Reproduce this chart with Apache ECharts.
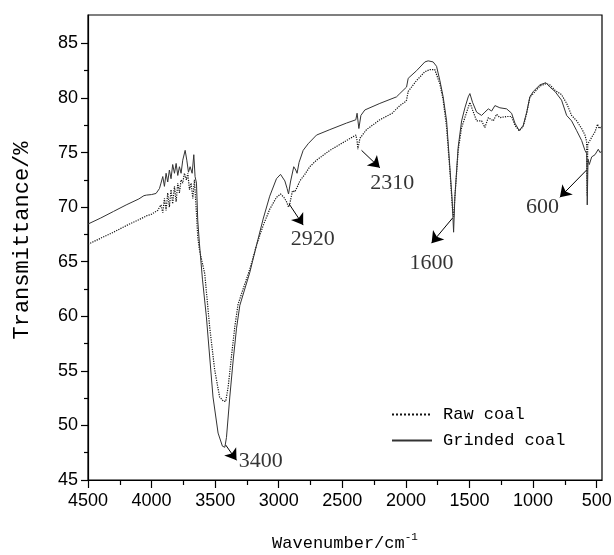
<!DOCTYPE html>
<html><head><meta charset="utf-8">
<script src="https://cdn.jsdelivr.net/npm/echarts@6/dist/echarts.min.js"></script>
<style>html,body{margin:0;padding:0;background:#fff}#c{width:614px;height:555px}</style>
</head><body><div id="c"></div>
<script>
// ---- data ----
const rawWavenumber = [4500,4400,4300,4200,4100,4056,4040,4000,3952,3926,3912,3899,3886,3873,3860,3847,3834,3820,3807,3794,3781,3768,3755,3742,3726,3715,3702,3689,3676,3663,3647,3637,3624,3582,3543,3504,3465,3433,3417,3398,3372,3346,3320,3280,3228,3175,3123,3071,3018,2986,2960,2939,2923,2913,2892,2874,2856,2834,2795,2756,2703,2598,2467,2394,2384,2378,2362,2310,2205,2108,2048,2010,1995,1982,1916,1851,1812,1773,1733,1707,1680,1654,1633,1625,1615,1589,1562,1536,1497,1476,1444,1405,1379,1352,1313,1287,1261,1208,1169,1143,1109,1077,1050,1025,998,946,899,868,828,776,736,697,657,618,592,579,575,570,558,539,513,493,480,461];
const rawT = [66.6,67.15,67.7,68.3,68.85,69.1,69.2,69.35,69.7,70.2,69.5,70.8,69.7,71.3,70.0,71.6,70.3,71.9,70.5,72.2,71.3,72.5,72.2,73.1,72.5,73.1,71.6,72.2,70.8,72.5,69.4,67.3,66.1,63.9,59.0,55.1,52.6,52.2,52.2,53.5,56.3,59.0,61.1,62.5,64.3,66.5,68.3,69.8,70.9,71.2,70.9,70.5,70.0,70.3,71.5,71.4,71.8,72.4,73.0,73.7,74.3,75.2,76.1,76.6,76.1,75.3,76.3,77.1,78.0,78.6,79.3,79.6,79.8,80.6,81.6,82.4,82.6,82.6,81.3,79.8,77.3,73.3,69.7,69.1,70.9,75.2,77.3,78.2,79.6,78.9,77.9,77.9,77.3,78.2,77.9,78.5,78.2,78.3,78.3,77.5,77.0,77.4,78.6,80.1,80.4,81.1,81.3,81.2,80.7,80.3,79.5,78.4,77.9,77.2,76.6,76.0,71.0,75.8,76.0,76.4,76.9,77.6,77.2,77.4];
const grindWavenumber = [4500,4400,4300,4200,4100,4060,4040,4000,3965,3938,3926,3912,3899,3886,3873,3860,3847,3834,3820,3807,3794,3781,3768,3755,3736,3723,3710,3697,3681,3668,3658,3647,3637,3624,3600,3569,3517,3477,3443,3424,3411,3385,3359,3332,3306,3267,3228,3175,3123,3071,3018,2986,2952,2934,2923,2908,2882,2866,2856,2840,2808,2769,2703,2598,2467,2394,2384,2370,2354,2323,2205,2074,2048,1995,1982,1916,1851,1825,1786,1759,1733,1707,1680,1654,1636,1625,1615,1589,1562,1536,1510,1497,1476,1444,1405,1379,1352,1326,1300,1261,1208,1169,1143,1109,1077,1050,1025,998,946,899,868,828,776,736,697,657,618,592,578,574,568,558,539,513,487,474,461];
const grindT = [68.45,69.0,69.6,70.2,70.75,71.05,71.1,71.15,71.25,71.7,72.2,72.8,71.9,73.1,72.3,73.4,72.6,73.9,73.1,74.0,72.9,73.7,73.1,74.3,75.2,74.3,73.2,73.7,73.1,74.8,72.8,72.2,68.8,66.7,63.4,59.95,52.6,49.3,48.1,48.0,48.9,52.6,55.9,58.9,61.0,62.5,64.0,66.5,68.9,71.0,72.6,73.0,72.4,71.7,71.2,72.3,73.7,73.4,73.1,74.1,75.2,75.8,76.6,77.1,77.7,78.0,78.6,77.2,78.4,78.9,79.5,80.1,80.4,81.0,81.8,82.5,83.3,83.4,83.3,82.9,81.6,80.1,77.9,73.6,70.6,67.7,70.9,75.5,77.9,79.1,80.1,80.4,79.6,78.7,78.4,78.7,79.0,78.8,79.3,79.1,79.0,78.6,77.7,77.0,77.5,78.7,80.1,80.6,81.2,81.4,81.0,80.6,79.8,78.4,77.9,77.0,76.1,75.2,74.9,70.2,74.4,73.9,74.6,74.8,75.3,75.0,75.1];

const xMajorTicks = [4500,4000,3500,3000,2500,2000,1500,1000,500];
const xMinorTicks = [4250,3750,3250,2750,2250,1750,1250,750];
const yMajorTicks = [45,50,55,60,65,70,75,80,85];
const yMinorTicks = [47.5,52.5,57.5,62.5,67.5,72.5,77.5,82.5];

const annText = ['3400','2920','2310','1600','600'];
const annArrowFrom = [[3417,48.2],[2919,70.3],[2349,75.2],[1633,69.0],[579,73.4]];
const annArrowTo = [[3332,46.8],[2808,68.35],[2205,73.6],[1798,66.7],[789,70.9]];
const annLabelAt = [[3141,46.7],[2732,67.1],[2107,72.2],[1798,64.9],[926,70.0]];

const X_MIN = 458, X_MAX = 4500, Y_MIN = 45, Y_MAX = 87.6;

// ---- chart ----
const chart = echarts.init(document.getElementById('c'), null, {renderer: 'canvas'});
const labelFont = {fontFamily: 'Liberation Sans, Arial, sans-serif', fontSize: 18, color: '#000'};
const monoFont = 'Liberation Mono, Courier New, monospace';
const plain = v => String(v);

function pairs(xs, ys) { return xs.map((x, i) => [x, ys[i]]); }

const option = {
  animation: false,
  backgroundColor: '#fff',
  grid: {left: 88, right: 12, top: 15, bottom: 75, containLabel: false, outerBoundsMode: 'none',
         show: true, borderColor: '#000', borderWidth: 1.2, backgroundColor: 'transparent'},
  legend: {
    data: ['Raw coal', 'Grinded coal'],
    orient: 'vertical', left: 386, top: 401,
    itemWidth: 40, itemHeight: 14, itemGap: 9,
    itemStyle: {color: 'rgba(0,0,0,0)', borderColor: 'rgba(0,0,0,0)', borderWidth: 0, opacity: 0},
    textStyle: {fontFamily: monoFont, fontSize: 17, color: '#000', padding: [0, 0, 0, 6]},
    selectedMode: false
  },
  xAxis: [{
    type: 'value', min: X_MIN, max: X_MAX, inverse: true, position: 'bottom',
    axisLine: {show: true, lineStyle: {color: '#000', width: 1.2}},
    axisTick: {show: true, customValues: xMajorTicks, length: 8, lineStyle: {color: '#000', width: 1.2}},
    axisLabel: Object.assign({customValues: xMajorTicks, margin: 12, formatter: plain}, labelFont),
    splitLine: {show: false},
    name: '{a|Wavenumber/cm}{s|-1}',
    nameLocation: 'middle', nameGap: 52,
    nameTextStyle: {
      rich: {
        a: {fontFamily: monoFont, fontSize: 17, color: '#000', lineHeight: 22},
        s: {fontFamily: monoFont, fontSize: 11, color: '#000', verticalAlign: 'top', lineHeight: 22}
      }
    }
  }, {
    type: 'value', min: X_MIN, max: X_MAX, inverse: true, position: 'bottom', gridIndex: 0,
    axisLine: {show: false},
    axisTick: {show: true, customValues: xMinorTicks, length: 5, lineStyle: {color: '#000', width: 1.2}},
    axisLabel: {show: false}, splitLine: {show: false}
  }],
  yAxis: [{
    type: 'value', min: Y_MIN, max: Y_MAX, position: 'left',
    axisLine: {show: true, lineStyle: {color: '#000', width: 1.2}},
    axisTick: {show: true, customValues: yMajorTicks, length: 7, lineStyle: {color: '#000', width: 1.2}},
    axisLabel: Object.assign({customValues: yMajorTicks, margin: 10, formatter: plain}, labelFont),
    splitLine: {show: false},
    name: 'Transmittance/%', nameLocation: 'middle', nameGap: 55, nameRotate: 90,
    nameTextStyle: {fontFamily: monoFont, fontSize: 22, color: '#000', padding: [0, 0, 0, 14]}
  }, {
    type: 'value', min: Y_MIN, max: Y_MAX, position: 'left', gridIndex: 0,
    axisLine: {show: false},
    axisTick: {show: true, customValues: yMinorTicks, length: 4, lineStyle: {color: '#000', width: 1.2}},
    axisLabel: {show: false}, splitLine: {show: false}
  }],
  series: [{
    name: 'Raw coal', type: 'line', xAxisIndex: 0, yAxisIndex: 0,
    data: pairs(rawWavenumber, rawT),
    symbol: 'none', showSymbol: false, smooth: false,
    lineStyle: {type: 'dotted', width: 1.2, color: '#111'},
    itemStyle: {color: '#111'}
  }, {
    name: 'Grinded coal', type: 'line', xAxisIndex: 0, yAxisIndex: 0,
    data: pairs(grindWavenumber, grindT),
    symbol: 'none', showSymbol: false, smooth: false,
    lineStyle: {type: 'solid', width: 1, color: '#333'},
    itemStyle: {color: '#333'}
  }, {
    name: 'annotations', type: 'scatter', xAxisIndex: 0, yAxisIndex: 0,
    silent: true, symbolSize: 0,
    data: annLabelAt.map((p, i) => [p[0], p[1], annText[i]]),
    label: {show: true, position: 'inside', formatter: p => p.value[2],
            fontFamily: 'Liberation Serif, Times New Roman, serif', fontSize: 22, color: '#000'},
    markLine: {
      silent: true, animation: false,
      symbol: ['none', 'arrow'], symbolSize: 11,
      itemStyle: {color: '#000'},
      label: {show: false},
      lineStyle: {color: '#000', width: 1, type: 'solid'},
      data: annArrowFrom.map((p, i) => [{coord: p}, {coord: annArrowTo[i]}])
    }
  }]
};
chart.setOption(option);
</script>
</body></html>
